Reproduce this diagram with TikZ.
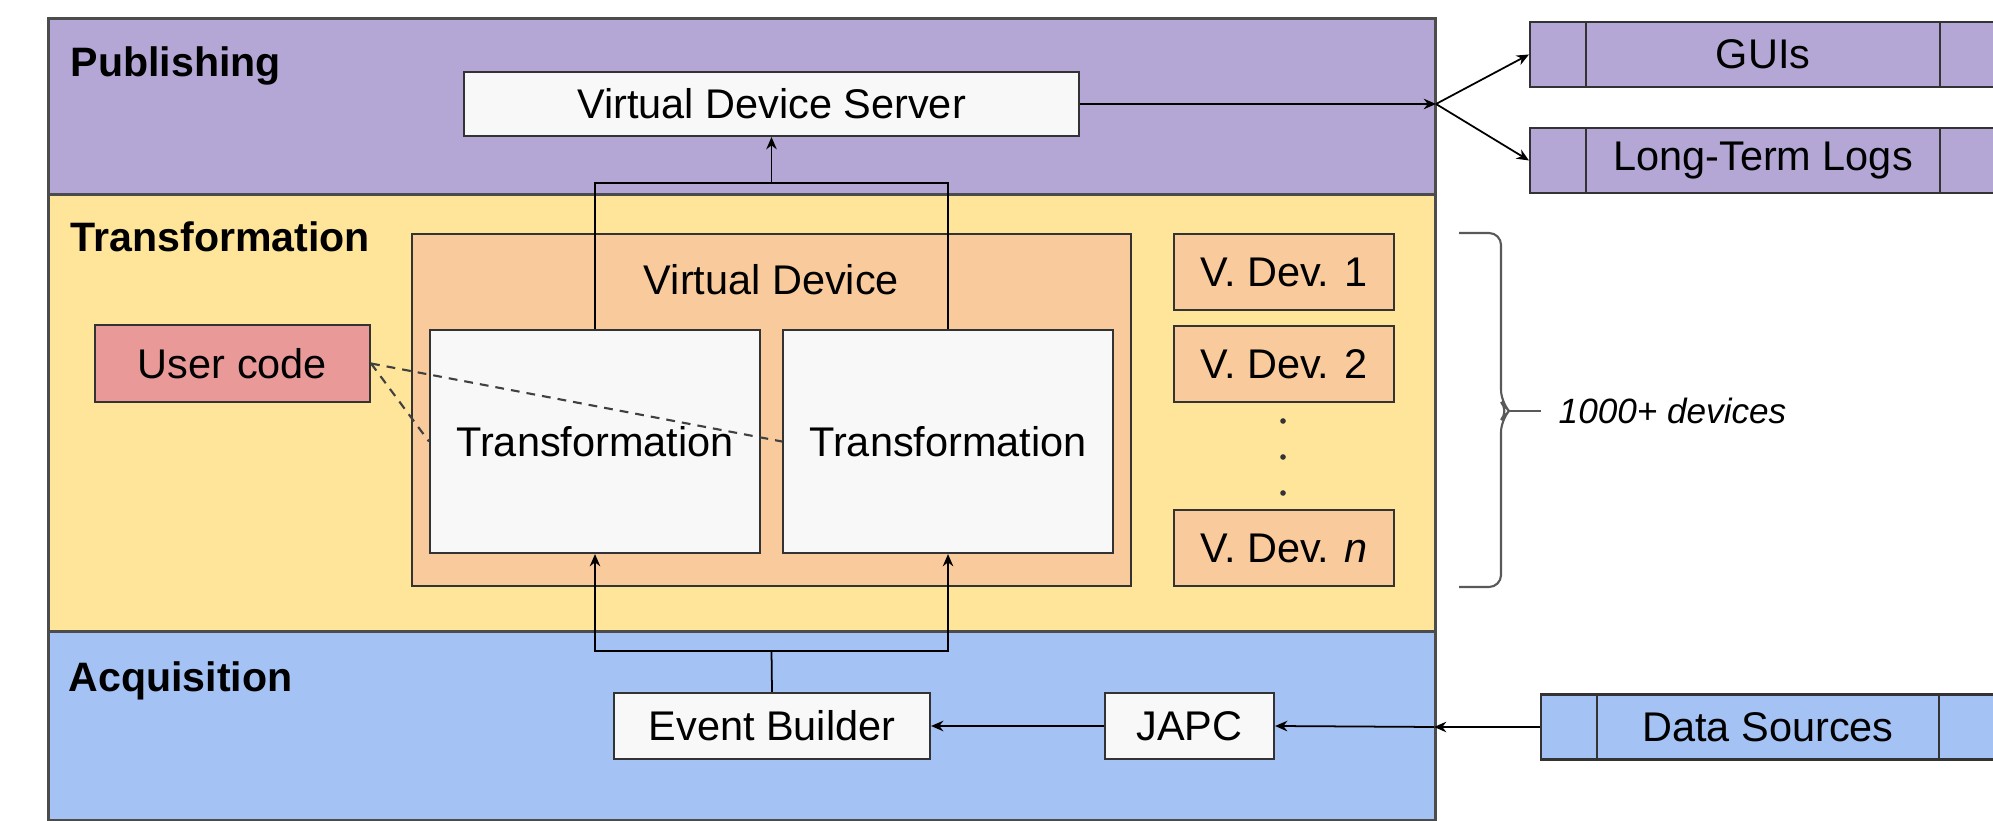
\documentclass[tikz,border=0pt]{standalone}
\usepackage{fontspec}
\setmainfont{Liberation Sans}
\usetikzlibrary{positioning,arrows.meta}
\pgfdeclarelayer{bg}
\pgfsetlayers{bg,main}
\definecolor{pubpurple}{HTML}{B4A7D6}
\definecolor{trfyellow}{HTML}{FFE599}
\definecolor{acqblue}{HTML}{A4C2F4}
\definecolor{devorange}{HTML}{F9CB9C}
\definecolor{userpink}{HTML}{EA9999}
\definecolor{boxwhite}{HTML}{F8F8F8}
\tikzset{
    band/.style={rectangle, draw=black!70, line width=0.8pt, inner sep=0mm, anchor=north west, minimum width=13.87cm},
    bandlabel/.style={anchor=base west, inner sep=0mm, font=\fontsize{11.7}{14}\selectfont\bfseries},
    box/.style={rectangle, draw=black!80, line width=0.6pt, inner sep=0mm, font=\fontsize{11.8}{14}\selectfont},
    wbox/.style={box, fill=boxwhite},
    obox/.style={box, fill=devorange},
    ext/.style={box, fill=#1, minimum height=0.65cm},
    arr/.style={-{Stealth[length=3.5pt,width=3pt]}, line width=0.5pt},
    bus/.style={line width=0.5pt},
    usedby/.style={dash pattern=on 2.5pt off 2pt, draw=black!75, line width=0.6pt},
    curly/.style={line width=0.6pt, draw=black!65, rounded corners=0.12cm}
}

\begin{document}
\begin{tikzpicture}
    \useasboundingbox (0cm, 0cm) rectangle (19.93cm, -8.21cm);

    % layers
    \begin{pgfonlayer}{bg}
        \node (pub) [band, fill=pubpurple, minimum height=1.76cm] at (0.47cm, -0.17cm) {};
        \node (trf) [band, fill=trfyellow, minimum height=4.37cm] at (0.47cm, -1.93cm) {};
        \node (acq) [band, fill=acqblue, minimum height=1.89cm] at (0.47cm, -6.30cm) {};
    \end{pgfonlayer}
    \node (publbl) [bandlabel] at (0.70cm, -0.77cm) {Publishing};
    \node (trflbl) [bandlabel] at (0.70cm, -2.52cm) {Transformation};
    \node (acqlbl) [bandlabel] at (0.68cm, -6.92cm) {Acquisition};

    % publishing
    \node (vds) [wbox, minimum width=6.15cm, minimum height=0.64cm] at (7.715cm, -1.04cm) {Virtual Device Server};
    \node (gui) [ext=pubpurple, minimum width=4.66cm] at (17.63cm, -0.545cm) {GUIs};
    \node (ltl) [ext=pubpurple, minimum width=4.66cm] at (17.63cm, -1.605cm) {Long-Term Logs};

    % transformation
    \node (vdev) [obox, minimum width=7.19cm, minimum height=3.52cm] at (7.715cm, -4.10cm) {};
    \node (vdevlbl) [inner sep=0mm, font=\fontsize{11.8}{14}\selectfont] at (7.715cm, -2.80cm) {Virtual Device};
    \node (ucode) [box, fill=userpink, minimum width=2.75cm, minimum height=0.77cm] at (2.325cm, -3.635cm) {User code};

    \node (vd1) [obox, minimum width=2.2cm, minimum height=0.76cm] at (12.84cm, -2.72cm) {V. Dev. 1};
    \node (vd2) [obox, minimum width=2.2cm, minimum height=0.76cm] at (12.84cm, -3.64cm) {V. Dev. 2};
    \node (vdn) [obox, minimum width=2.2cm, minimum height=0.76cm] at (12.84cm, -5.48cm) {V. Dev. \textit{n}};
    \foreach \y in {4.21, 4.57, 4.93}
        \fill[black!80] (12.83cm, -\y cm) circle (0.8pt);

    \coordinate (topbus) at (7.715cm, -1.83cm);
    \coordinate (botbus) at (7.715cm, -6.51cm);
    \draw[bus] (5.95cm, -3.30cm) |- (topbus) -| (9.48cm, -3.30cm);
    \draw[arr] (topbus) -- (vds.south);

    \node (trans1) [wbox, minimum width=3.30cm, minimum height=2.23cm] at (5.95cm, -4.415cm) {Transformation};
    \node (trans2) [wbox, minimum width=3.30cm, minimum height=2.23cm] at (9.48cm, -4.415cm) {Transformation};

    \draw[usedby] (ucode.east) -- (trans1.west);
    \draw[usedby] (ucode.east) -- (trans2.west);

    % acquisition
    \node (evb) [wbox, minimum width=3.16cm, minimum height=0.66cm] at (7.72cm, -7.26cm) {Event Builder};
    \node (japc) [wbox, minimum width=1.69cm, minimum height=0.66cm] at (11.895cm, -7.26cm) {JAPC};
    \node (dsrc) [ext=acqblue, minimum width=4.54cm] at (17.68cm, -7.27cm) {Data Sources};

    \draw[bus] (evb.north) -- (botbus);
    \draw[arr] (botbus) -| (trans1.south);
    \draw[arr] (botbus) -| (trans2.south);

    % outside world
    \foreach \e in {gui, ltl, dsrc} {
        \draw[line width=0.6pt, draw=black!80] ([xshift=0.57cm]\e.north west) -- ([xshift=0.57cm]\e.south west);
        \draw[line width=0.6pt, draw=black!80] ([xshift=-0.57cm]\e.north east) -- ([xshift=-0.57cm]\e.south east);
    }

    \coordinate (pubout) at (14.36cm, -1.04cm);
    \coordinate (acqin) at (14.34cm, -7.27cm);
    \draw[arr] (vds.east) -- (pubout);
    \draw[arr] (pubout) -- (gui.west);
    \draw[arr] (pubout) -- (ltl.west);
    \draw[arr] (dsrc.west) -- (acqin);
    \draw[arr] (acqin) -- (japc.east);
    \draw[arr] (japc.west) -- (evb.east);

    % brace
    \coordinate (brtop) at (14.59cm, -2.33cm);
    \coordinate (brbot) at (14.59cm, -5.87cm);
    \coordinate (brtip) at (15.41cm, -4.11cm);
    \draw[curly] (brtop) -| (15.01cm, -4.02cm) -- (15.09cm, -4.11cm) -- (15.01cm, -4.20cm) |- (brbot);
    \draw[line width=0.6pt, draw=black!65] (15.09cm, -4.11cm) -- (brtip);
    \node (ndev) [right=0.17cm of brtip, inner sep=0mm, font=\fontsize{10}{12}\selectfont\itshape] {1000+ devices};
\end{tikzpicture}
\end{document}
